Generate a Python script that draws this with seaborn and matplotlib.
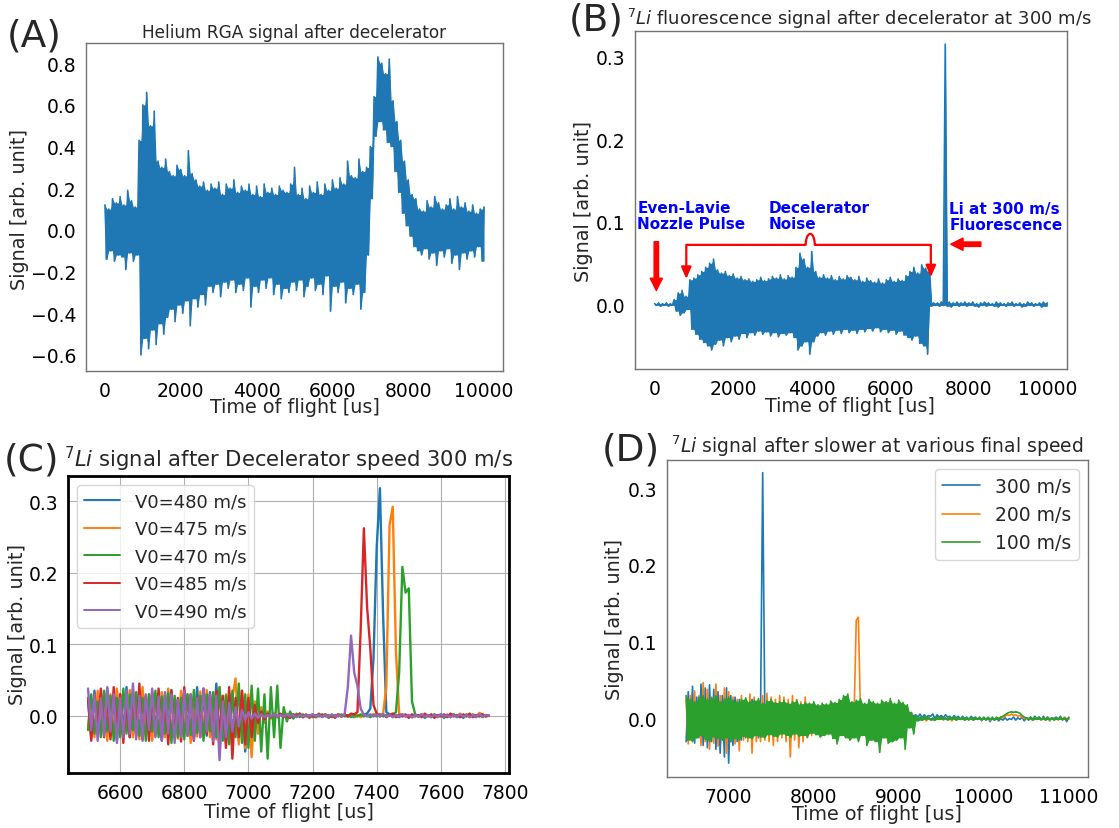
import numpy as np
import pandas as pd
import matplotlib
matplotlib.use("Agg")
import matplotlib.pyplot as plt
import seaborn as sns

# ---------------------------------------------------------------------------
# (A) Helium RGA trace after the decelerator, in units of 0.01 arb. unit.
#     Local maxima at t = 0, 100, ..., 10000 us, local minima at t = 50, 150, ...
he_max = [12, 10, 15, 13, 16, 12, 19, 14, 11, 43,
          60, 66, 50, 57, 33, 30, 34, 28, 26, 31,
          29, 26, 38, 27, 24, 21, 23, 19, 22, 20,
          23, 17, 22, 20, 24, 18, 21, 19, 22, 17,
          21, 16, 22, 18, 20, 17, 21, 19, 18, 22,
          30, 17, 20, 15, 21, 18, 23, 17, 22, 19,
          24, 20, 25, 22, 33, 26, 25, 34, 28, 30,
          40, 64, 83, 80, 75, 82, 62, 52, 43, 33,
          24, 17, 15, 10, 9, 14, 11, 16, 13, 10,
          12, 15, 10, 16, 11, 13, 9, 12, 8, 10,
          11]
he_min = [-14, -10, -15, -12, -13, -19, -11, -15, -12, -60,
          -52, -57, -48, -55, -45, -50, -42, -38, -44, -36,
          -40, -34, -46, -33, -37, -31, -36, -27, -30, -26,
          -32, -25, -28, -24, -30, -26, -29, -23, -37, -27,
          -30, -24, -28, -23, -31, -26, -33, -28, -30, -25,
          -29, -24, -32, -27, -23, -29, -26, -31, -22, -39,
          -27, -30, -25, -35, -28, -31, -26, -38, -30, -12,
          15, 45, 52, 48, 42, 40, 28, 18, 8, 2,
          -3, -8, -10, -12, -9, -14, -11, -17, -10, -13,
          -9, -16, -12, -19, -11, -14, -10, -13, -8, -15]

# (B) 7Li fluorescence after the decelerator at 300 m/s, units of 1e-3.
li_max = [1, 2, 1, 2, 1, 6, 14, 17, 10, 30,
          32, 36, 40, 45, 50, 55, 42, 38, 40, 35,
          37, 32, 34, 30, 31, 28, 30, 33, 29, 31,
          34, 32, 36, 31, 35, 33, 45, 62, 55, 45,
          64, 40, 33, 36, 32, 35, 30, 34, 31, 35,
          33, 30, 34, 28, 32, 29, 27, 31, 26, 30,
          33, 28, 31, 29, 35, 40, 45, 38, 48, 44,
          40, 2, 2, 3, 315, 3, 2, 3, 2, 3,
          2, 3, 1, 2, 3, 2, 1, 3, 2, 1,
          2, 3, 1, 2, 1, 3, 2, 1, 2, 3,
          2]
li_min = [-1, -2, -1, -2, -1, -8, -13, -10, -6, -30,
          -36, -42, -46, -50, -55, -48, -43, -50, -40, -45,
          -38, -42, -35, -40, -34, -37, -32, -36, -33, -38,
          -34, -39, -35, -37, -34, -40, -55, -50, -45, -60,
          -45, -38, -34, -37, -32, -36, -31, -35, -30, -34,
          -31, -35, -30, -33, -29, -32, -28, -33, -30, -34,
          -31, -36, -32, -37, -40, -43, -38, -47, -50, -60,
          -2, -1, -2, -1, -2, -3, -1, -2, -1, -2,
          -1, -2, -3, -1, -2, -1, -2, -3, -1, -2,
          -1, -2, -1, -3, -2, -1, -2, -1, -3, -2]

# (C) 7Li signal after the decelerator (300 m/s) for several initial speeds,
#     10 us samples starting at 6500 us, units of 1e-3.
c_labels = ["V0=480 m/s", "V0=475 m/s", "V0=470 m/s", "V0=485 m/s", "V0=490 m/s"]
v480 = [20, -30, 35, -25, 30, -20, 38, -28, 25, -35,
        30, -22, 40, -30, 28, -25, 35, -33, 27, -20,
        33, -28, 25, -35, 30, -24, 36, -30, 22, -27,
        35, -25, 28, -32, 40, -22, 30, -28, 33, -26,
        45, -30, 25, -38, 32, -27, 20, -35, 28, -50,
        15, -12, 10, -8, 6, -5, 4, -3, 3, -2,
        2, -2, 1, -3, 2, -1, 3, -2, 1, -1,
        2, -2, 1, -1, 2, -3, 1, -1, 2, -1,
        1, -1, 2, -2, 1, 0, 2, 3, 10, 80,
        235, 318, 140, 5, 2, -1, 1, -2, 2, -1,
        1, -2, 1, -1, 2, -3, 1, -2, 1, -1,
        2, -3, 1, -1, 2, -2, 1, -3, 2, -1,
        1, -2, 2, -1, 1, 0]
v475 = [-15, 25, -30, 35, -20, 28, -35, 30, -25, 38,
        -28, 32, -20, 36, -30, 25, -33, 40, -22, 30,
        -35, 28, -25, 33, -30, 38, -27, 22, -32, 35,
        -24, 30, -38, 27, -29, 34, -22, 36, -30, 26,
        -33, 40, -28, 30, -36, 25, 52, -40, 35, -45,
        30, -58, 20, -25, 12, -10, 6, -4, 3, -2,
        2, -1, 3, -2, 1, -1, 2, -2, 1, -1,
        1, -2, 2, -1, 1, -2, 1, -1, 2, -1,
        1, -1, 2, -1, 1, -2, 1, 0, 1, 2,
        2, 1, 3, 40, 266, 292, 90, 3, 1, -1,
        1, -2, 2, -1, 1, -2, 1, -1, 2, -2,
        1, -1, 2, -2, 1, -1, 3, -1, 2, -2,
        1, -1, 4, 2, -1, 1]
v470 = [-20, 30, -25, 20, -30, 35, -22, 28, -35, 25,
        -30, 38, -25, 30, -20, 33, -28, 25, -35, 30,
        -22, 35, -30, 27, -25, 32, -38, 28, -30, 25,
        -33, 30, -27, 36, -24, 28, -35, 30, -22, 33,
        -30, 40, -35, 28, -40, 35, -30, 45, -38, 30,
        -45, 42, -35, 38, -50, 30, -60, 40, -30, 42,
        -45, 12, -8, 6, -4, 3, -2, 2, -1, 1,
        -2, 1, -1, 2, -1, 1, -2, 1, -1, 2,
        -1, 1, -2, 1, -1, 2, -1, 1, -2, 1,
        -1, 2, -1, 1, 0, 2, 5, 60, 208, 172,
        178, 20, 2, -1, 1, -2, 1, -1, 2, -1,
        1, -2, 1, -1, 2, -1, 1, -2, 1, -1,
        2, -1, 1, -2, 1, 0]
v485 = [25, -35, 30, -20, 38, -30, 25, -33, 40, -25,
        30, -38, 22, -30, 35, -28, 45, -32, 27, -35,
        30, -25, 38, -33, 28, -40, 35, -30, 25, -36,
        40, -28, 30, -35, 26, -30, 38, -25, 30, -40,
        35, -33, 28, -45, 40, -60, 25, -30, 35, -40,
        25, -30, 15, -10, 6, -5, 3, -2, 2, -1,
        3, -2, 1, -3, 2, -1, 3, -2, 2, -3,
        1, -2, 3, -1, 2, -2, 1, -3, 2, -1,
        2, -1, 3, 2, 5, 120, 262, 152, 95, 15,
        3, -1, 2, -2, 1, 3, -2, 1, -1, 2,
        -3, 2, -1, 1, -2, 3, -1, 2, -3, 1,
        -1, 2, -2, 3, -1, 1, -2, 2, -1, 3,
        -2, 1, -1, 2, -1, 0]
v490 = [38, -20, 30, -35, 25, -28, 40, -22, 30, -38,
        25, -30, 35, -25, 45, -33, 28, -35, 30, -20,
        38, -30, 27, -35, 33, -25, 30, -38, 22, -30,
        35, -28, 30, -33, 25, -30, 38, -22, 30, -35,
        28, -62, 20, -30, 18, -22, 12, -15, 8, -6,
        5, -4, 3, -3, 2, -2, 1, -1, 2, -1,
        1, -1, 2, -1, 1, -2, 1, -1, 1, -1,
        2, -1, 1, -2, 1, -1, 2, -1, 1, -1,
        2, 40, 112, 60, 42, 10, 1, -1, 2, -1,
        1, -1, 2, -1, 1, -2, 1, -1, 2, -1,
        1, -2, 1, -1, 2, -1, 1, -2, 1, -1,
        2, -1, 1, -2, 1, -1, 2, -1, 1, -2,
        1, -1, 2, -1, 1, 0]

# (D) 7Li signal after the slower at several final speeds,
#     25 us samples starting at 6500 us, units of 1e-3.
d_labels = ["300 m/s", "200 m/s", "100 m/s"]
s300 = [-30, 35, -20, 42, -32, 28, -25, 45, -35, 40,
        -38, 44, -30, 38, -40, 35, -45, 30, -50, 40,
        -58, 30, -35, 28, -30, 25, -28, 22, -25, 20,
        -22, 25, -20, 18, -25, 8, 320, 5, -20, 22,
        -18, 20, -22, 15, -20, 18, -15, 20, -18, 14,
        -20, 16, -18, 15, -14, 18, -16, 12, -15, 14,
        -12, 15, -14, 12, -15, 13, -12, 14, -13, 11,
        -14, 12, -11, 13, -12, 10, -13, 12, -10, 11,
        -12, 10, -11, 12, -10, 11, -12, 9, -10, 11,
        -9, 10, -12, 9, -10, 11, -9, 10, -11, 9,
        -10, 9, -8, 10, -9, 8, 6, 3, 5, 2,
        6, 1, 5, 2, 4, 3, 6, 0, 5, 2,
        4, 1, 5, 2, 3, 0, 4, 1, 3, -1,
        3, 0, 2, -2, 3, 0, 2, -1, 1, -3,
        2, -1, 1, -4, 2, -2, 1, -3, 0, -2,
        1, -2, 0, -1, 2, -2, 1, -1, 2, -3,
        1, -2, 2, -1, 3, 0, 2, -2, 3, -1,
        2, -3, 1, 0, 2, -1, 3, -2, 1, -4, 2]
s200 = [25, -33, 30, -28, 36, -25, 30, -35, 47, -30,
        38, -40, 28, -32, 45, -36, 30, -28, 40, -45,
        35, -30, 28, -33, 25, -42, 30, -28, 26, -30,
        32, -45, 28, -30, 25, -30, 30, -28, 33, -30,
        28, -35, 25, -30, 30, -25, 28, -30, 25, -50,
        30, -28, 25, -38, 22, -30, 28, -25, 20, -22,
        15, -15, 12, -14, 10, -12, 13, -10, 11, -13,
        10, -12, 11, -10, 12, -11, 9, -12, 10, 5,
        128, 132, 5, -10, 11, -12, 9, -10, 12, -11,
        10, -12, 9, -11, 10, -9, 11, -10, 8, -12,
        10, -9, 11, -10, 8, -5, 3, -3, 2, -2,
        1, -2, 0, -3, 1, -1, 0, -2, 1, -1,
        0, -2, 1, -1, 0, -3, 1, -2, 0, -1,
        1, -2, 0, -1, 1, -2, 0, -1, 1, -2,
        0, -1, 1, -2, 0, -1, 1, 0, 2, 1,
        3, 5, 4, 6, 4, 5, 3, 4, 2, 0,
        1, -1, 0, -2, 1, -1, 0, -2, 1, -1,
        0, -2, 1, -1, 0, -2, 1, -1, 2, -1, 0]
s100 = [30, -28, 25, -30, 22, -25, 28, -22, 30, -27,
        25, -30, 27, -24, 30, -26, 22, -28, 26, -25,
        28, -30, 24, -26, 22, -28, 25, -23, 27, -25,
        22, -26, 24, -22, 26, -24, 20, -25, 23, -21,
        25, -23, 21, -24, 22, -20, 24, -22, 20, -25,
        22, -20, 24, -23, 19, -22, 21, -24, 20, -19,
        22, -21, 18, -24, 20, -22, 19, -20, 23, -26,
        21, -33, 25, -22, 30, -25, 32, -28, 22, -25,
        24, -30, 26, -22, 20, -35, 25, -28, 22, -30,
        20, -44, 24, -25, 22, -32, 26, -30, 20, -28,
        24, -25, 21, -40, 18, -12, 8, -20, 4, -3,
        2, -2, 3, -1, 2, -2, 1, -2, 3, -1,
        2, -1, 1, -2, 2, -1, 3, -2, 1, -1,
        2, -2, 1, -1, 2, -2, 1, -1, 2, -1,
        1, -2, 2, -1, 1, -2, 2, -1, 2, 3,
        5, 7, 8, 9, 8, 9, 8, 7, 4, 2,
        1, -1, 2, -2, 1, -1, 2, -1, 1, -2,
        2, -1, 1, -2, 1, -1, 2, -1, 1, -1, 1]

# ---------------------------------------------------------------------------
PALETTE = sns.color_palette("tab10")
W, H = 1119, 829
GREY = "0.45"
TICK_FS = 13.5
LABEL_FS = 13.8


def interleave(maxima, minima):
    out = []
    for a, b in zip(maxima, minima):
        out += [a, b]
    if len(maxima) > len(minima):
        out.append(maxima[len(minima)])
    return np.array(out, dtype=float)


def sampled(values, start, step, scale):
    y = np.asarray(values, dtype=float) * scale
    t = start + step * np.arange(len(y))
    return t, y


def rect(l, t, r, b):
    return [l / W, 1 - b / H, (r - l) / W, (b - t) / H]


def ftext(x, y, s, **kw):
    fig.text(x / W, 1 - y / H, s, **kw)


def style_axes(ax, color=GREY, lw=1.0):
    for sp in ax.spines.values():
        sp.set_color(color)
        sp.set_linewidth(lw)
    ax.tick_params(axis="both", colors=color, labelcolor="black",
                   labelsize=TICK_FS, direction="out", length=3.5, width=lw)


def trace(ax, t, y, color, lw, label=None, dense=False):
    """Draw a sampled trace; dense traces also get their sample envelope shaded
    so the fast oscillation reads as a solid band, as on a scope screen."""
    if dense:
        s = pd.Series(y)
        top = s.rolling(3, center=True, min_periods=1).max() \
               .rolling(3, center=True, min_periods=1).min()
        bot = s.rolling(3, center=True, min_periods=1).min() \
               .rolling(3, center=True, min_periods=1).max()
        ax.fill_between(t, bot.to_numpy(), top.to_numpy(), color=color,
                        linewidth=0, zorder=2)
    sns.lineplot(x=t, y=y, ax=ax, color=color, linewidth=lw,
                 estimator=None, sort=False, label=label, zorder=2)


sns.set_style("white")
plt.rcParams["font.family"] = ["DejaVu Sans"]
plt.rcParams["axes.unicode_minus"] = True

fig = plt.figure(figsize=(W / 100, H / 100), dpi=100)

# ---------------------------------- (A) ------------------------------------
axA = fig.add_axes(rect(86, 44, 503, 372))
tA, yA = sampled(interleave(he_max, he_min), 0, 50, 0.01)
trace(axA, tA, yA, PALETTE[0], 1.2, dense=True)
axA.set_xlim(-500, 10500)
axA.set_ylim(-0.677, 0.897)
axA.set_xticks(np.arange(0, 10001, 2000))
axA.set_yticks(np.round(np.arange(-0.6, 0.81, 0.2), 1))
axA.set_xlabel("")
axA.set_ylabel("")
style_axes(axA)
axA.set_title("Helium RGA signal after decelerator", fontsize=12.2, pad=4)

# ---------------------------------- (B) ------------------------------------
axB = fig.add_axes(rect(635, 32, 1067, 370))
tB, yB = sampled(interleave(li_max, li_min), 0, 50, 0.001)
trace(axB, tB, yB, PALETTE[0], 1.2, dense=True)
axB.set_xlim(-500, 10500)
axB.set_ylim(-0.078, 0.331)
axB.set_xticks(np.arange(0, 10001, 2000))
axB.set_yticks([0.0, 0.1, 0.2, 0.3])
axB.set_xlabel("")
axB.set_ylabel("")
style_axes(axB)
axB.set_title(r"$^{7}Li$ fluorescence signal after decelerator at 300 m/s",
              fontsize=13, pad=5, x=0.5 + 8 / 432)

blue_kw = dict(color="#0000ff", fontsize=11, fontweight="bold",
               ha="left", va="top", linespacing=1.1)
axB.text(-440, 0.1266, "Even-Lavie\nNozzle Pulse", **blue_kw)
axB.text(2900, 0.1266, "Decelerator\nNoise", **blue_kw)
axB.text(7506, 0.1254, "Li at 300 m/s\nFluorescence", **blue_kw)

big_arrow = dict(arrowstyle="simple,head_width=0.55,head_length=0.55,tail_width=0.2",
                 color="red", mutation_scale=16, shrinkA=0, shrinkB=0)
axB.annotate("", xy=(43, 0.017), xytext=(43, 0.076), arrowprops=big_arrow)
axB.annotate("", xy=(7540, 0.073), xytext=(8306, 0.073), arrowprops=big_arrow)

# bracket spanning the decelerator noise, with a small brace tip
br_left, br_right, br_y = 806, 7033, 0.0722
tip_x, tip_hw, tip_h = 3962, 115, 0.0133
theta = np.linspace(np.pi, 0, 40)
bx = np.concatenate([[br_left], tip_x + tip_hw * np.cos(theta), [br_right]])
by = np.concatenate([[br_y], br_y + tip_h * np.sin(theta), [br_y]])
axB.plot(bx, by, color="red", lw=1.6, solid_capstyle="butt", zorder=4)
small_arrow = dict(arrowstyle="-|>,head_width=0.3,head_length=0.7",
                   color="red", lw=1.6, shrinkA=0, shrinkB=0)
axB.annotate("", xy=(br_left, 0.031), xytext=(br_left, br_y), arrowprops=small_arrow)
axB.annotate("", xy=(br_right, 0.033), xytext=(br_right, br_y), arrowprops=small_arrow)

# ---------------------------------- (C) ------------------------------------
axC = fig.add_axes(rect(68, 477, 509, 774))
c_series = [v480, v475, v470, v485, v490]
for i, (vals, lab) in enumerate(zip(c_series, c_labels)):
    t, y = sampled(vals, 6500, 10, 0.001)
    trace(axC, t, y, PALETTE[i], 1.7, label=lab)
axC.set_xlim(6437.5, 7812.5)
axC.set_ylim(-0.080, 0.335)
axC.set_xticks(np.arange(6600, 7801, 200))
axC.set_yticks([0.0, 0.1, 0.2, 0.3])
axC.set_xlabel("")
axC.set_ylabel("")
style_axes(axC, color="black", lw=2.0)
axC.grid(True, color="#b0b0b0", lw=0.8)
axC.set_axisbelow(True)
axC.set_title(r"$^{7}Li$ signal after Decelerator speed 300 m/s", fontsize=15.2, pad=7)
legC = axC.legend(loc="upper left", fontsize=13, labelspacing=0.53,
                  handlelength=2.0, handletextpad=0.8, framealpha=0.8)
for h in legC.get_lines():
    h.set_linewidth(1.4)

# ---------------------------------- (D) ------------------------------------
axD = fig.add_axes(rect(667, 461, 1088, 778))
for i, (vals, lab) in enumerate(zip([s300, s200, s100], d_labels)):
    t, y = sampled(vals, 6500, 25, 0.001)
    trace(axD, t, y, PALETTE[i], 1.2, label=lab, dense=(i == 2))
axD.set_xlim(6275, 11225)
axD.set_ylim(-0.076, 0.3365)
axD.set_xticks(np.arange(7000, 11001, 1000))
axD.set_yticks([0.0, 0.1, 0.2, 0.3])
axD.set_xlabel("")
axD.set_ylabel("")
style_axes(axD)
axD.set_title(r"$^{7}Li$ signal after slower at various final speed", fontsize=13.5, pad=6)
legD = axD.legend(loc="upper right", fontsize=13.5, labelspacing=0.49,
                  handlelength=2.0, handletextpad=0.8, framealpha=0.8)
for h in legD.get_lines():
    h.set_linewidth(1.2)

# ------------------------ axis labels and panel tags ------------------------
for (cx, cy) in [(19.5, 210), (583, 202), (18, 625), (615, 620)]:
    ftext(cx, cy, "Signal [arb. unit]", rotation=90, ha="center", va="center",
          fontsize=LABEL_FS)
for (cx, cy) in [(295, 408), (850, 407), (289, 813), (877, 815)]:
    ftext(cx, cy, "Time of flight [us]", ha="center", va="center", fontsize=LABEL_FS)

for (x, y, s) in [(7, 37, "(A)"), (569, 20, "(B)"), (4, 461, "(C)"), (602, 451, "(D)")]:
    ftext(x, y, s, ha="left", va="center", fontsize=27)

fig.savefig("out.png", dpi=100)
